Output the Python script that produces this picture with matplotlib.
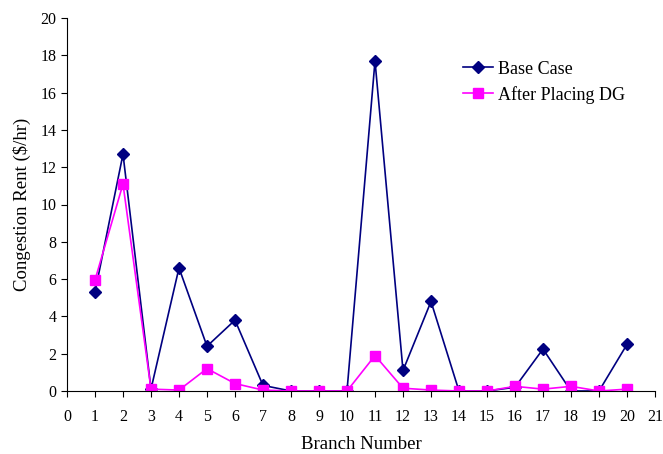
import matplotlib
matplotlib.use("Agg")
import matplotlib.pyplot as plt

branches = list(range(1, 21))
base_case = [5.3, 12.7, 0.1, 6.6, 2.4, 3.8, 0.3, 0.0, 0.0, 0.0,
             17.7, 1.1, 4.8, 0.0, 0.0, 0.2, 2.25, 0.0, 0.0, 2.5]
after_dg = [5.95, 11.1, 0.1, 0.05, 1.2, 0.4, 0.05, 0.0, 0.0, 0.0,
            1.9, 0.15, 0.05, 0.0, 0.0, 0.25, 0.1, 0.25, 0.0, 0.1]

plt.rcParams['font.family'] = ['Liberation Serif', 'DejaVu Serif']

fig = plt.figure(figsize=(6.63, 4.54), dpi=100)
ax = fig.add_axes([67/663, 1 - 391/454, 588/663, 373/454])

ax.plot(branches, base_case, color='#000080', marker='D', markersize=6,
        linewidth=1.2, label='Base Case')
ax.plot(branches, after_dg, color='#FF00FF', marker='s', markersize=7,
        linewidth=1.2, label='After Placing DG')

ax.set_xlim(0, 21)
ax.set_ylim(0, 20)
ax.set_xticks(range(0, 22))
ax.set_yticks(range(0, 21, 2))
ax.spines['top'].set_visible(False)
ax.spines['right'].set_visible(False)
ax.tick_params(direction='out', labelsize=11.5, length=4)
ax.tick_params(axis='x', pad=9)
ax.set_xlabel('Branch Number', fontsize=13.5, labelpad=8)
ax.set_ylabel('Congestion Rent ($/hr)', fontsize=13.5, labelpad=7)
ax.legend(loc='upper left', bbox_to_anchor=(0.661, 0.905), frameon=False,
          fontsize=13, handlelength=1.65, handletextpad=0.3,
          labelspacing=0.45, borderaxespad=0)

fig.savefig('out.png', dpi=100)
